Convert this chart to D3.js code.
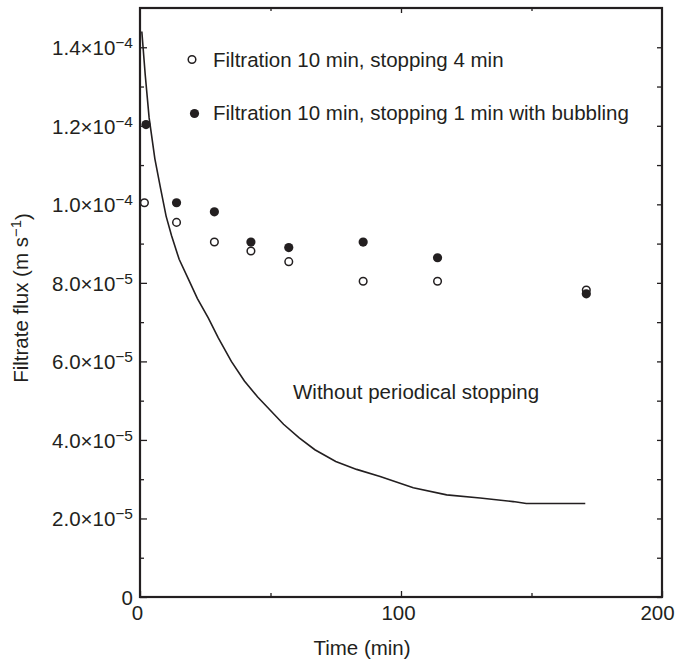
<!DOCTYPE html>
<html>
<head>
<meta charset="utf-8">
<script src="https://cdnjs.cloudflare.com/ajax/libs/d3/7.8.5/d3.min.js"></script>
<style>
  body { margin: 0; background: #fff; }
  text { font-family: "Liberation Sans", Arial, sans-serif; fill: #231f20; }
</style>
</head>
<body>
<div id="chart"></div>
<script>
// data (flux in 1e-6 m/s, time in min)
var openTime = [1.7, 14, 28.5, 42.5, 57, 85.5, 114, 171];
var openFlux = [100.4, 95.4, 90.4, 88.1, 85.4, 80.4, 80.4, 78.2];

var filledTime = [2.3, 14, 28.5, 42.5, 57, 85.5, 114, 171];
var filledFlux = [120.3, 100.4, 98.1, 90.4, 89, 90.4, 86.4, 77.2];

var lineTime = [0.7, 2, 3.5, 5.7, 7.9, 10, 12.1, 15, 18.5, 22, 26.2, 30, 35, 40, 45, 50, 55, 61, 67, 75, 83, 92, 104.7, 117.5, 130.3, 143, 148, 170.6];
var lineFlux = [144, 133, 122, 111.6, 104, 97, 92, 86, 81, 76, 71, 66, 60, 55, 51, 47.5, 44, 40.5, 37.5, 34.5, 32.5, 30.7, 27.8, 26, 25.2, 24.3, 23.8, 23.8];

var yMajor = [0, 20, 40, 60, 80, 100, 120, 140];
var yLabels = [["0", ""], ["2.0\u00d710", "\u22125"], ["4.0\u00d710", "\u22125"], ["6.0\u00d710", "\u22125"],
               ["8.0\u00d710", "\u22125"], ["1.0\u00d710", "\u22124"], ["1.2\u00d710", "\u22124"], ["1.4\u00d710", "\u22124"]];
var yMinor = [10, 30, 50, 70, 90, 110, 130];
var xMajor = [0, 100, 200];
var xMinor = [50, 150];

var legendNames = ["Filtration 10 min, stopping 4 min", "Filtration 10 min, stopping 1 min with bubbling"];

var svgWidth = 680, svgHeight = 662;
var ink = "#231f20";
var fs = 20.5;

var svg = d3.select("#chart").append("svg")
    .attr("width", svgWidth)
    .attr("height", svgHeight);

var x = d3.scaleLinear().domain([0, 200]).range([140, 662]);
var y = d3.scaleLinear().domain([0, 150]).range([597, 8]);

// left axis
var leftG = svg.append("g").attr("transform", "translate(140,0)")
    .call(d3.axisLeft(y).tickValues(yMajor).tickSize(-7).tickPadding(7).tickFormat(""));
leftG.selectAll(".tick text").each(function(d, i) {
    var t = d3.select(this).attr("font-size", fs).attr("dy", "0.36em");
    t.append("tspan").text(yLabels[i][0]);
    if (yLabels[i][1]) t.append("tspan").attr("dy", "-0.45em").attr("font-size", 15.5).text(yLabels[i][1]);
});
svg.append("g").attr("transform", "translate(140,0)")
    .call(d3.axisLeft(y).tickValues(yMinor).tickSize(-4).tickFormat(""));

// right axis
svg.append("g").attr("transform", "translate(662,0)")
    .call(d3.axisRight(y).tickValues(yMajor.concat(yMinor)).tickSize(-5).tickFormat(""));

// bottom axis
var botG = svg.append("g").attr("transform", "translate(0,597)")
    .call(d3.axisBottom(x).tickValues(xMajor).tickSize(-6).tickPadding(6).tickFormat(d3.format("d")));
botG.selectAll(".tick text").attr("font-size", fs).attr("dy", "0.85em")
    .attr("dx", d => d == 0 ? "-3" : d == 200 ? "-5" : "-3");
svg.append("g").attr("transform", "translate(0,597)")
    .call(d3.axisBottom(x).tickValues(xMinor).tickSize(-4).tickFormat(""));

// top axis
svg.append("g").attr("transform", "translate(0,8)")
    .call(d3.axisTop(x).tickValues([100]).tickSize(-5).tickFormat(""));
svg.append("g").attr("transform", "translate(0,8)")
    .call(d3.axisTop(x).tickValues(xMinor).tickSize(-3).tickFormat(""));

svg.selectAll(".domain").remove();
svg.selectAll(".tick line").attr("stroke", ink).attr("stroke-width", 1.3);

// frame
svg.append("rect")
    .attr("x", x(0)).attr("y", y(150))
    .attr("width", x(200) - x(0)).attr("height", y(0) - y(150))
    .attr("fill", "none").attr("stroke", ink).attr("stroke-width", 2.2);

// curve
var line = d3.line().x((d, i) => x(lineTime[i])).y(d => y(d));
svg.append("path")
    .datum(lineFlux)
    .attr("d", line)
    .attr("fill", "none")
    .attr("stroke", ink)
    .attr("stroke-width", 1.6);

// open circles
svg.selectAll(".openPt")
    .data(openFlux)
    .enter()
    .append("circle")
    .attr("class", "openPt")
    .attr("cx", (d, i) => x(openTime[i]))
    .attr("cy", d => y(d))
    .attr("r", 3.8)
    .attr("fill", "#fff")
    .attr("stroke", ink)
    .attr("stroke-width", 1.5);

// filled circles
svg.selectAll(".filledPt")
    .data(filledFlux)
    .enter()
    .append("circle")
    .attr("class", "filledPt")
    .attr("cx", (d, i) => x(filledTime[i]))
    .attr("cy", d => y(d))
    .attr("r", 4.6)
    .attr("fill", ink);

// legend
svg.append("circle").attr("cx", 192).attr("cy", 59.5).attr("r", 3.8)
    .attr("fill", "#fff").attr("stroke", ink).attr("stroke-width", 1.5);
svg.append("circle").attr("cx", 194.5).attr("cy", 113.5).attr("r", 4.6).attr("fill", ink);
svg.append("text").attr("x", 213).attr("y", 67).attr("font-size", fs).text(legendNames[0]);
svg.append("text").attr("x", 213).attr("y", 120).attr("font-size", fs).text(legendNames[1]);

svg.append("text").attr("x", 293).attr("y", 399).attr("font-size", fs).text("Without periodical stopping");

// axis titles
svg.append("text")
    .attr("x", 362).attr("y", 655)
    .attr("text-anchor", "middle")
    .attr("font-size", fs)
    .text("Time (min)");

var yTitle = svg.append("text")
    .attr("transform", "translate(28,298) rotate(-90)")
    .attr("text-anchor", "middle")
    .attr("font-size", fs);
yTitle.append("tspan").text("Filtrate flux (m s");
yTitle.append("tspan").attr("dy", "-0.45em").attr("font-size", 15).text("\u22121");
yTitle.append("tspan").attr("dy", "0.45em").text(")");
</script>
</body>
</html>
